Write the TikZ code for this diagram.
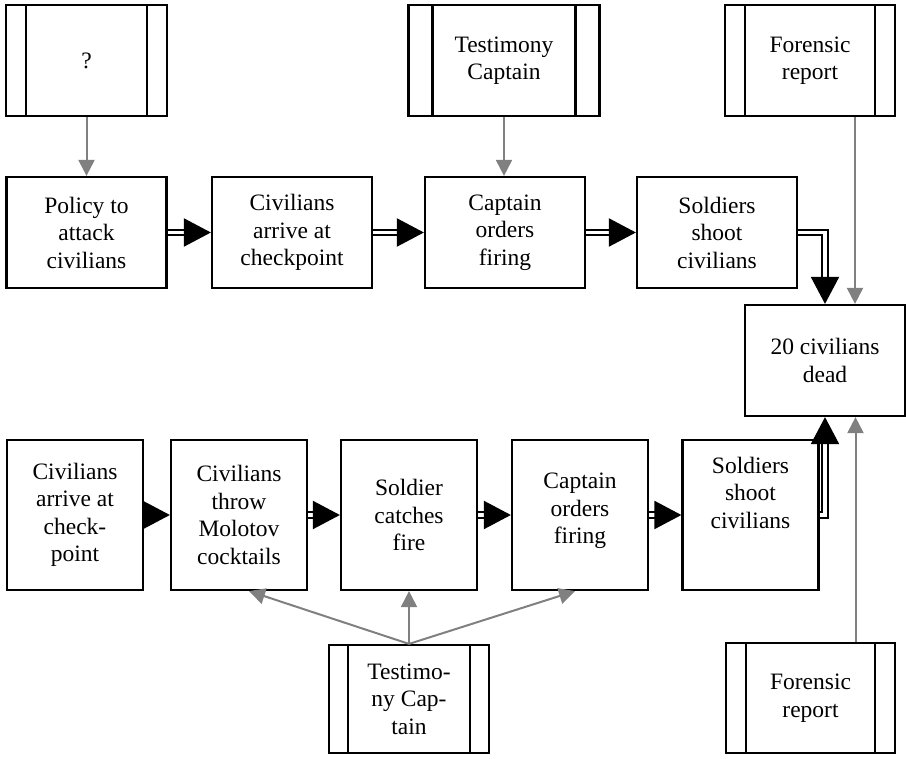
\documentclass[tikz,border=0pt]{standalone}
\usepackage{fontspec}
\setmainfont{Liberation Serif}
\usetikzlibrary{arrows.meta}
\tikzset{
  stepbox/.style={draw, line width=2.2pt, minimum width=160pt, minimum height=111pt,
    inner sep=0pt, align=center, font=\fontsize{23.5}{27.5}\selectfont},
  lowbox/.style={stepbox, minimum width=136pt, minimum height=150pt},
  docbox/.style={stepbox, path picture={
    \draw[line width=2.2pt]
      ([xshift=#1]path picture bounding box.north west) -- ([xshift=#1]path picture bounding box.south west)
      ([xshift=-#1]path picture bounding box.north east) -- ([xshift=-#1]path picture bounding box.south east);}},
  docbox/.default=20pt,
  causes/.style={line width=2pt, double distance=3.5pt, -{Triangle[length=27pt,width=28pt]}},
  evid/.style={draw=gray, line width=2pt, -{Triangle[length=16pt,width=16pt]}},
}
\begin{document}
\begin{tikzpicture}[x=1pt,y=-1pt]
  \useasboundingbox (0,0) rectangle (906,759);
  % sources on top
  \node[docbox, minimum width=161pt] (qA) at (86.5,60.5) {?};
  \node[docbox=24pt, minimum width=191pt] (testA) at (504,60.5) {Testimony\\Captain};
  \node[docbox, minimum width=170pt] (forA) at (810,60.5) {Forensic\\report};

  % first account
  \node[stepbox] (policy) at (86.5,232.5) {Policy to\\attack\\civilians};
  \node[stepbox] (arriveA) at (292,232.5) {Civilians\\arrive at\\checkpoint};
  \node[stepbox] (orderA) at (505,232.5) {Captain\\orders\\firing};
  \node[stepbox] (shootA) at (717,232.5) {Soldiers\\shoot\\civilians};
  \node[stepbox] (dead) at (825,360.5) {20 civilians\\dead};

  \draw[causes] (policy) -- (arriveA);
  \draw[causes] (arriveA) -- (orderA);
  \draw[causes] (orderA) -- (shootA);
  \draw[causes] (shootA.east) -| (dead.north);

  % second account
  \node[lowbox] (arriveB) at (75,515) {Civilians\\arrive at\\check-\\point};
  \node[lowbox] (throwB) at (239,515) {Civilians\\throw\\Molotov\\cocktails};
  \node[lowbox] (fireB) at (409,515) {Soldier\\catches\\fire};
  \node[lowbox] (orderB) at (580,515) {Captain\\orders\\firing\\[-14pt]};
  \node[lowbox] (shootB) at (750.5,515) {Soldiers\\shoot\\civilians\\[17pt]};

  \draw[causes] (arriveB) -- (throwB);
  \draw[causes] (throwB) -- (fireB);
  \draw[causes] (fireB) -- (orderB);
  \draw[causes] (orderB) -- (shootB);
  \draw[causes] (shootB.east) -| (dead.south);

  % sources below
  \node[docbox=19pt, minimum height=108pt] (testB) at (409,699) {Testimo-\\ny Cap-\\tain};
  \node[docbox, minimum width=169pt, minimum height=110pt] (forB) at (810.5,698) {Forensic\\report};

  \draw[evid] (qA) -- (policy);
  \draw[evid] (testA.south) -- (testA.south |- orderA.north);
  \draw[evid] ([xshift=45pt]forA.south) -- ([xshift=45pt]forA.south |- dead.north);
  \draw[evid] ([xshift=45pt]forB.north) -- ([xshift=45pt]forB.north |- dead.south);
  \draw[evid] (testB.north) -- ([xshift=10pt]throwB.south);
  \draw[evid] (testB.north) -- (fireB.south);
  \draw[evid] (testB.north) -- ([xshift=-5pt]orderB.south);
\end{tikzpicture}
\end{document}
